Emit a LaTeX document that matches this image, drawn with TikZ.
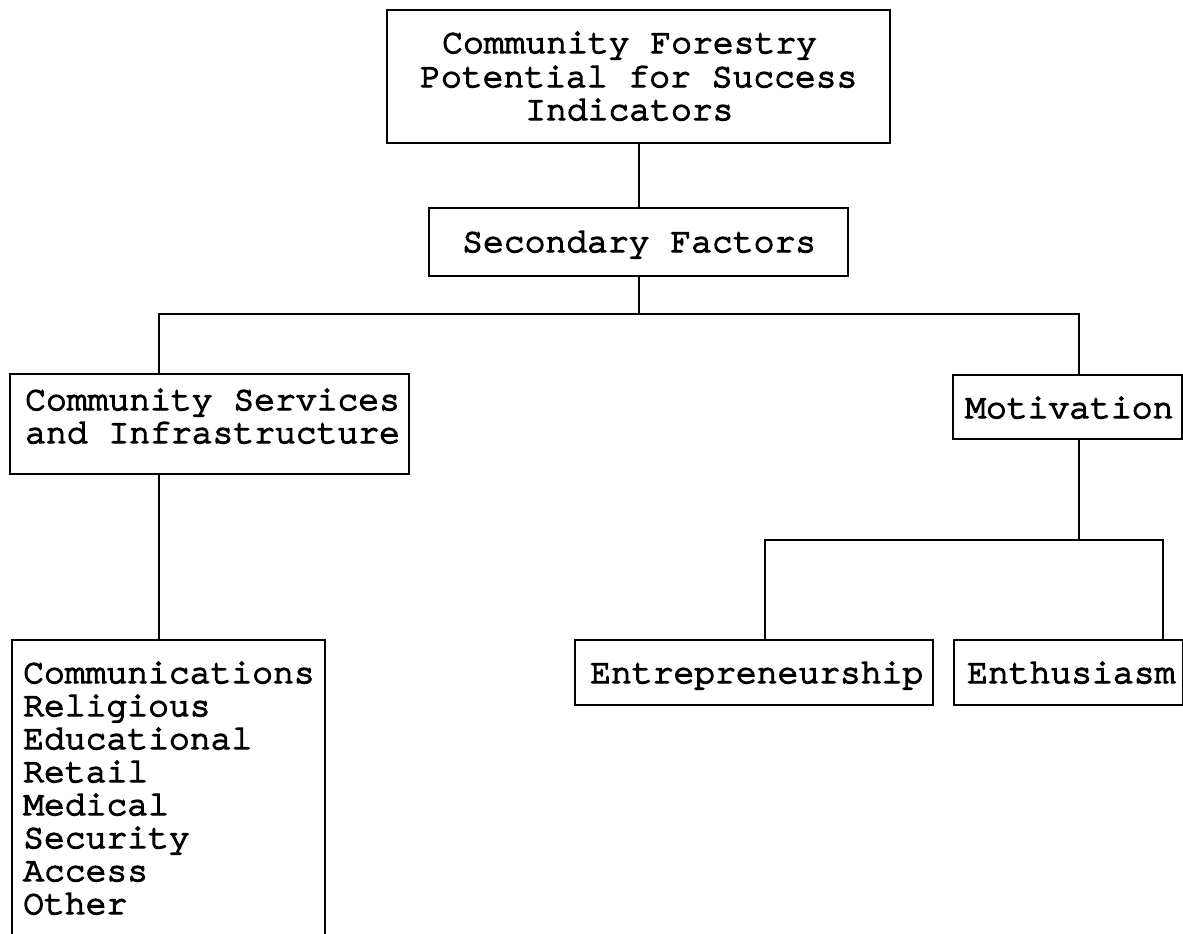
\documentclass[tikz,border=0pt]{standalone}
\usepackage{fontspec}
\newfontfamily\typewriterface[FakeBold=4]{texgyrecursor-regular.otf}
\begin{document}
\begin{tikzpicture}[x=1pt, y=-1pt,
  box/.style={draw, line width=2pt, inner sep=0pt, outer sep=0pt},
  txt/.style={anchor=base west, inner sep=0pt, font=\typewriterface\fontsize{34.7}{34}\selectfont},
  wire/.style={line width=2pt}]
  \useasboundingbox (0,0) rectangle (1183,934);
  \clip (0,0) rectangle (1183,934);

  % boxes
  \node[box, minimum width=503pt, minimum height=133pt] (top)  at (638.5,76.5) {};
  \node[box, minimum width=419pt, minimum height=68pt]  (sec)  at (638.5,242) {};
  \node[box, minimum width=399pt, minimum height=100pt] (svc)  at (209.5,424) {};
  \node[box, minimum width=313pt, minimum height=320pt] (list) at (168.5,800) {};
  \node[box, minimum width=229pt, minimum height=64pt]  (mot)  at (1067.5,407) {};
  \node[box, minimum width=358pt, minimum height=65pt]  (ent)  at (754,672.5) {};
  \node[box, minimum width=229pt, minimum height=65pt]  (ent2) at (1068.5,672.5) {};

  % labels
  \node[txt] (t1) at (442,53)  {Community Forestry};
  \node[txt] (t2) at (420,87)  {Potential for Success};
  \node[txt] (t3) at (525,120) {Indicators};
  \node[txt] (s1) at (462,252) {Secondary Factors};
  \node[txt] (c1) at (25,410)  {Community Services};
  \node[txt] (c2) at (25,443)  {and Infrastructure};
  \node[txt] (m1) at (965,418) {Motivation};
  \node[txt] (e1) at (590,683) {Entrepreneurship};
  \node[txt] (e2) at (967,683) {Enthusiasm};
  \foreach \t [count=\i from 0] in {Communications,Religious,Educational,Retail,Medical,Security,Access,Other}
    \node[txt] (item\i) at (23,683+33*\i) {\t};

  % junctions
  \coordinate (j0) at (638.5,314);
  \coordinate (jl) at (159,314);
  \coordinate (jr) at (1079,314);
  \coordinate (m0) at (1079,540);
  \coordinate (ml) at (765,540);
  \coordinate (mr) at (1163,540);

  % connectors
  \draw[wire] (top.south) -- (sec.north);
  \draw[wire] (sec.south) -- (j0);
  \draw[wire] (svc.north -| jl) -- (jl) -- (jr) -- (jr |- mot.north);
  \draw[wire] (svc.south -| jl) -- (list.north -| jl);
  \draw[wire] (mot.south -| m0) -- (m0);
  \draw[wire] (ent.north -| ml) -- (ml) -- (mr) -- (ent2.north -| mr);
\end{tikzpicture}
\end{document}
